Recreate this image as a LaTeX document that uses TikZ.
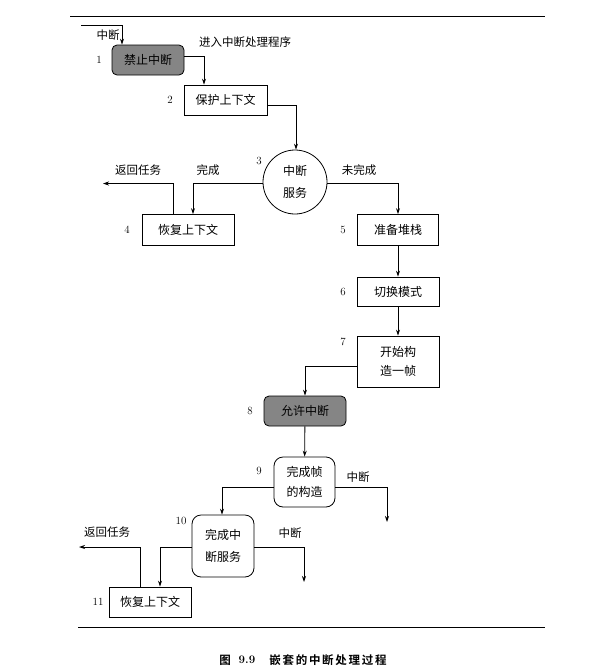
\documentclass[tikz,border=0pt]{standalone}
\usepackage{fontspec}
\newfontfamily\cjk{Noto Sans CJK SC}
\newfontfamily\cjkb{Noto Sans CJK SC Bold}
\usetikzlibrary{arrows.meta}
\begin{document}
\begin{tikzpicture}[x=1pt,y=-1pt,
  box/.style={draw,line width=0.8pt,inner sep=0pt,align=center,
    font=\cjk\fontsize{12}{19}\selectfont},
  gbox/.style={box,fill=black!48,rounded corners=5pt},
  rbox/.style={box,rounded corners=9pt},
  lbl/.style={inner sep=0pt,font=\cjk\fontsize{11.5}{13}\selectfont},
  num/.style={inner sep=0pt,font=\fontsize{11}{13}\selectfont},
  arr/.style={line width=0.8pt,-{Stealth[length=6pt,width=4pt]}},
  rule/.style={line width=1pt}]
\useasboundingbox (0,0) rectangle (611,670);
% rules
\coordinate (t1) at (70,16); \coordinate (t2) at (545,16);
\coordinate (b1) at (78,627); \coordinate (b2) at (545,627);
\draw[rule] (t1) -- (t2);
\draw[rule] (b1) -- (b2);
% nodes
\node[gbox,minimum width=72pt,minimum height=30pt] (n1) at (148,60) {禁止中断};
\node[box,minimum width=83pt,minimum height=30pt] (n2) at (225.5,100) {保护上下文};
\node[draw,circle,line width=0.8pt,minimum size=64pt,inner sep=0pt,align=center,
  font=\cjk\fontsize{12}{22}\selectfont] (n3) at (295,182) {中断\\服务};
\node[box,minimum width=92pt,minimum height=31pt] (n4) at (188,230) {恢复上下文};
\node[box,minimum width=81pt,minimum height=31pt] (n5) at (398,230) {准备堆栈};
\node[box,minimum width=82pt,minimum height=29pt] (n6) at (398,291.5) {切换模式};
\node[box,minimum width=82pt,minimum height=51pt] (n7) at (398,361.5) {开始构\\造一帧};
\node[gbox,minimum width=82pt,minimum height=30pt] (n8) at (305,411) {允许中断};
\node[rbox,minimum width=61pt,minimum height=50pt,
  font=\cjk\fontsize{12}{20}\selectfont] (n9) at (304.5,482) {完成帧\\的构造};
\node[rbox,minimum width=62pt,minimum height=62pt,
  font=\cjk\fontsize{12}{22}\selectfont] (n10) at (223,546) {完成中\\断服务};
\node[box,minimum width=82pt,minimum height=30pt] (n11) at (150,602) {恢复上下文};
% numbers
\node[num] (k1) at (99,60) {1};
\node[num] (k2) at (170,100) {2};
\node[num] (k3) at (259,161) {3};
\node[num] (k4) at (127,230) {4};
\node[num] (k5) at (343,230) {5};
\node[num] (k6) at (343,292) {6};
\node[num] (k7) at (343,342) {7};
\node[num] (k8) at (250,411) {8};
\node[num] (k9) at (259,471) {9};
\node[num] (k10) at (181,521) {10};
\node[num] (k11) at (98,602) {11};
% labels
\node[lbl] (l0) at (108,35) {中断};
\node[lbl] (l1) at (245,42) {进入中断处理程序};
\node[lbl] (l2) at (138,170) {返回任务};
\node[lbl] (l3) at (208,170) {完成};
\node[lbl] (l4) at (359,170) {未完成};
\node[lbl] (l5) at (358,477) {中断};
\node[lbl] (l6) at (290,533) {中断};
\node[lbl] (l7) at (107,532) {返回任务};
% free ends
\coordinate (in) at (81,25);
\coordinate (r1) at (103,183.5);
\coordinate (c1) at (387,522);
\coordinate (c2) at (304,582);
\coordinate (r2) at (79,547);
% connectors
\draw[arr] (in) -| ([xshift=-26pt]n1.north);
\draw[arr] ([yshift=4pt]n1.east) -| ([xshift=-21.5pt]n2.north);
\draw[arr] ([yshift=-5pt]n2.east) -| ([xshift=1pt]n3.north);
\draw[arr] ([yshift=-1.5pt]n3.west) -| ([xshift=5pt]n4.north);
\draw[arr] ([xshift=-15pt]n4.north) |- (r1);
\draw[arr] ([yshift=-1.5pt]n3.east) -| (n5.north);
\draw[arr] (n5) -- (n6);
\draw[arr] (n6) -- (n7);
\draw[arr] ([yshift=-4.5pt]n7.west) -| (n8.north);
\draw[arr] (n8) -- (n9);
\draw[arr] ([yshift=-5pt]n9.west) -| ([xshift=-1pt]n10.north);
\draw[arr] ([yshift=-5pt]n9.east) -| (c1);
\draw[arr] ([yshift=-1pt]n10.east) -| (c2);
\draw[arr] ([yshift=-1pt]n10.west) -| ([xshift=10pt]n11.north);
\draw[arr] ([xshift=-10pt]n11.north) |- (r2);
% caption
\node[inner sep=0pt,font=\cjkb\fontsize{11.5}{13}\selectfont] (cap1) at (225,660) {图};
\node[inner sep=0pt,font=\bfseries\fontsize{11.5}{13}\selectfont] (cap2) at (247,660) {9.9};
\node[inner sep=0pt,font=\cjkb\fontsize{11.5}{13}\selectfont] (cap3) at (328,660)
  {\addfontfeature{LetterSpace=15}嵌套的中断处理过程};
\end{tikzpicture}
\end{document}
